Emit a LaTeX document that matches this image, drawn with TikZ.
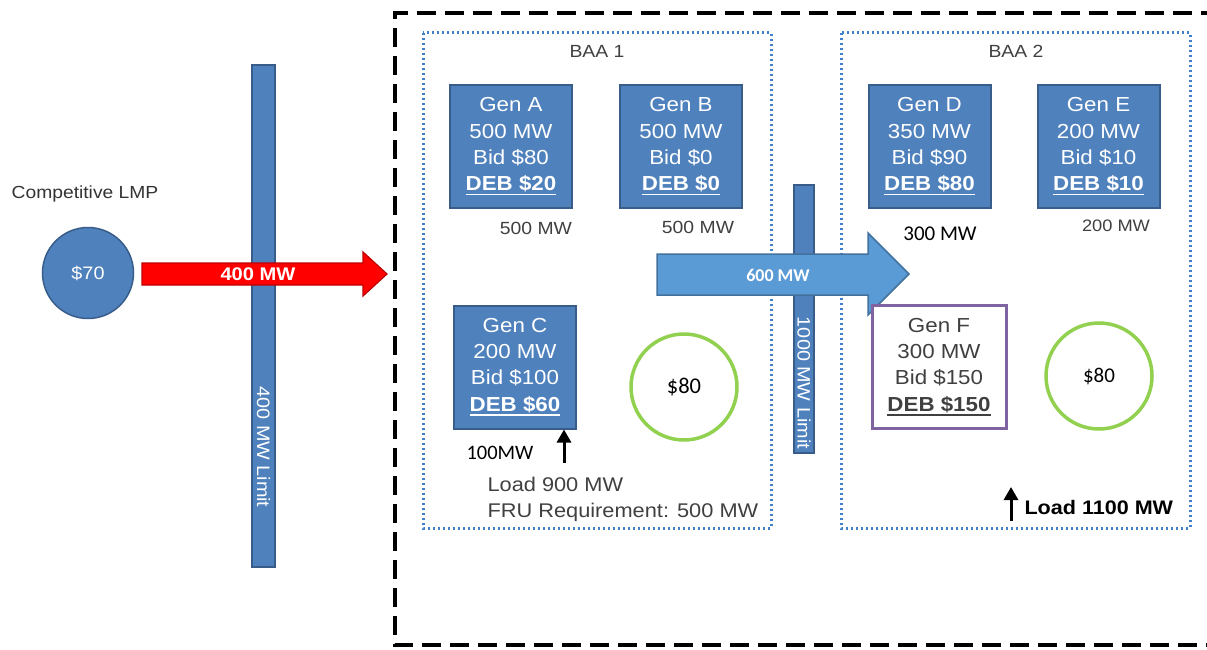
\documentclass[tikz,border=0pt]{standalone}
\usepackage{fontspec}
\setmainfont[FakeStretch=1.1]{Liberation Sans}
\newfontfamily\calibri{Carlito}
\usetikzlibrary{arrows.meta, positioning}

\definecolor{genblue}{HTML}{4F81BD}
\definecolor{genedge}{HTML}{385D8A}
\definecolor{flowblue}{HTML}{5B9BD5}
\definecolor{flowedge}{HTML}{41719C}
\definecolor{ringgreen}{HTML}{92D050}
\definecolor{fpurple}{HTML}{8064A2}
\definecolor{txtgray}{HTML}{404040}
\definecolor{dotblue}{HTML}{3F7FCB}
\definecolor{tiered}{HTML}{FF0000}
\definecolor{tieedge}{HTML}{C00000}

\newcommand{\fs}[2]{\fontsize{#1}{#2}\selectfont}
\newsavebox{\debbox}
\newcommand{\debul}[1]{\sbox{\debbox}{\textbf{#1}}%
    \rlap{\rule[-4.5pt]{\wd\debbox}{1.6pt}}\usebox{\debbox}}

\tikzset{
    genbox/.style={draw=genedge, line width=2pt, fill=genblue, text=white,
        minimum width=122pt, minimum height=123pt, inner sep=0pt,
        align=center, font=\fs{20.3}{26.3}},
    genoff/.style={genbox, draw=fpurple, line width=3pt, fill=white,
        text=txtgray, minimum width=134pt},
    limitbar/.style={draw=genedge, line width=1.5pt, fill=genblue, inner sep=0pt},
    pricering/.style={circle, draw=ringgreen, line width=3.5pt,
        minimum size=106pt, inner sep=0pt},
    baabox/.style={draw=dotblue, line width=3pt, dash pattern=on 2.4pt off 2.6pt},
    mwlabel/.style={text=txtgray, font=\fs{17.6}{20}},
    uparrow/.style={-{Triangle[length=13pt,width=14pt]}, line width=3pt}
}

\begin{document}
\begin{tikzpicture}[x=1pt, y=-1pt]
    \useasboundingbox (0,0) rectangle (1207,650);

    % market boundary and balancing areas
    \draw[line width=3.5pt, dash pattern=on 19pt off 9pt]
        (1220,13) -- (395,13) -- (395,645) -- (1220,645);
    \draw[baabox] (423,33) rectangle (771,528);
    \draw[baabox] (841,33) rectangle (1190,528);
    \node[text=txtgray, font=\fs{17.6}{20}] (baa1) at (597,51) {BAA 1};
    \node[text=txtgray, font=\fs{17.6}{20}] (baa2) at (1016,51) {BAA 2};

    % outside market
    \node[text=txtgray!80!black, font=\fs{17.5}{20}] (lmptitle) at (85,194) {Competitive LMP};
    \node[circle, fill=genblue, draw=genedge, line width=1.5pt, minimum size=91pt,
        inner sep=0pt, text=white, font=\fs{18}{20}] (lmp) at (88,273) {\$70};

    % transfer limits
    \node[limitbar, minimum width=23pt, minimum height=502pt] (barL) at (263.5,316) {};
    \node[rotate=-90, text=white, font=\fs{18}{20}] (limL) at (263.5,447) {400 MW Limit};
    \node[limitbar, minimum width=20pt, minimum height=268pt] (barM) at (804,319) {};
    \node[rotate=-90, text=white, font=\fs{18}{20}] (limM) at (804,383) {1000 MW Limit};

    % imports
    \draw[fill=tiered, draw=tieedge, line width=1.2pt]
        (142,263) -- (363,263) -- (363,252) -- (387,274) -- (363,296)
        -- (363,285) -- (142,285) -- cycle;
    \node[text=white, font=\bfseries\fs{18.3}{20}] (imp) at (258,274) {400 MW};
    \draw[fill=flowblue, draw=flowedge, line width=1.5pt]
        (657,254) -- (868,254) -- (868,233) -- (909,274) -- (868,315)
        -- (868,295) -- (657,295) -- cycle;
    \node[text=white, font=\calibri\bfseries\fs{18}{20}] (xfer) at (778,275) {600 MW};

    % BAA 1
    \node[genbox] (genA) at (511,146.5) {Gen A\\500 MW\\Bid \$80\\\debul{DEB \$20}};
    \node[genbox] (genB) at (681,146.5) {Gen B\\500 MW\\Bid \$0\\\debul{DEB \$0}};
    \node[genbox] (genC) at (515,367) {Gen C\\200 MW\\Bid \$100\\\debul{DEB \$60}};
    \node[mwlabel] (mwA) at (536,228) {500 MW};
    \node[mwlabel] (mwB) at (698,227) {500 MW};
    \node[font=\calibri\fs{20.5}{22}] (mwC) at (500,453) {100MW};
    \coordinate (upC) at (564,463);
    \draw[uparrow] (upC) -- (upC |- genC.south);
    \node[pricering, font=\calibri\fs{22.5}{24}] (lmp1) at (684,387) {\$80};
    \node[anchor=west, text=txtgray, font=\fs{19.8}{22}] (load1) at (484,484) {Load 900 MW};
    \node[anchor=west, text=txtgray, font=\fs{19.8}{22}] (fru1) at (484,512) {FRU Requirement: 500 MW};

    % BAA 2
    \node[genbox] (genD) at (929.5,146.5) {Gen D\\350 MW\\Bid \$90\\\debul{DEB \$80}};
    \node[genbox] (genE) at (1098.5,146.5) {Gen E\\200 MW\\Bid \$10\\\debul{DEB \$10}};
    \node[genoff] (genF) at (939,367) {Gen F\\300 MW\\Bid \$150\\\debul{DEB \$150}};
    \node[font=\calibri\fs{21}{22}] (mwD) at (940,234) {300 MW};
    \node[mwlabel, font=\fs{16.6}{20}] (mwE) at (1116,226) {200 MW};
    \node[pricering, font=\calibri\fs{21}{24}] (lmp2) at (1099,376) {\$80};
    \node[anchor=west, font=\bfseries\fs{19.6}{22}] (load2) at (1021,507) {Load 1100 MW};
    \coordinate (upL) at (1011,521);
    \coordinate (upLtip) at (1011,487);
    \draw[uparrow] (upL) -- (upLtip);
\end{tikzpicture}
\end{document}
